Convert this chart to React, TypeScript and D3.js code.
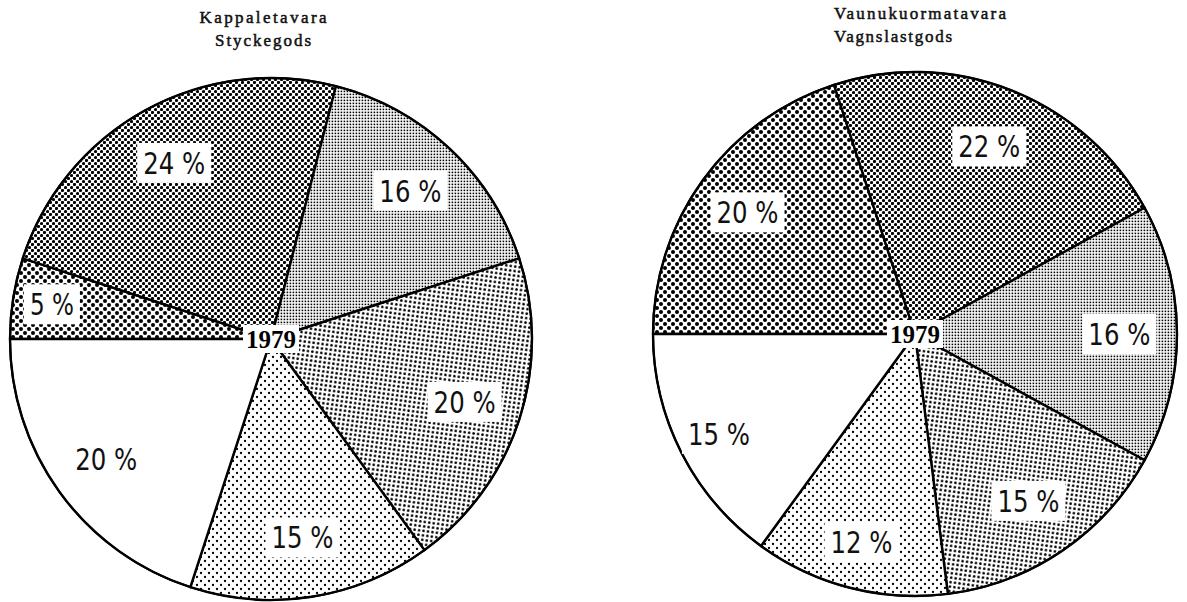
import React from "react";
import * as d3 from "d3";

// ---- data ----
const categories = ["coarse", "dense", "fine", "mesh", "sparse", "none"];
const leftTitle = ["Kappaletavara", "Styckegods"];
const leftValues = [5, 24, 16, 20, 15, 20];
const rightTitle = ["Vaunukuormatavara", "Vagnslastgods"];
const rightValues = [20, 22, 16, 15, 12, 15];
const yearLabel = "1979";

// ---- layout ----
const W = 1187;
const H = 602;
const leftLabelR = [0.85, 0.77, 0.78, 0.78, 0.77, 0.78];
const rightLabelR = [0.79, 0.77, 0.78, 0.77, 0.82, 0.84];

const LABEL_FONT = "'Liberation Sans Narrow', 'DejaVu Sans Condensed', 'Arial Narrow', sans-serif";
const TITLE_FONT = "'Liberation Serif', 'DejaVu Serif', serif";

function Patterns() {
  return (
    <defs>
      <pattern id="p-coarse" width={8} height={8} patternUnits="userSpaceOnUse">
        <rect width={8} height={8} fill="#fff" />
        <circle cx={2} cy={2} r={2.0} fill="#000" />
        <circle cx={6} cy={6} r={2.0} fill="#000" />
      </pattern>
      <pattern id="p-dense" width={6} height={6} patternUnits="userSpaceOnUse">
        <rect width={6} height={6} fill="#fff" />
        <circle cx={1.5} cy={1.5} r={1.6} fill="#000" />
        <circle cx={4.5} cy={4.5} r={1.6} fill="#000" />
      </pattern>
      <pattern id="p-fine" width={3} height={3} patternUnits="userSpaceOnUse">
        <rect width={3} height={3} fill="#fff" />
        <rect x={0.6} y={0.6} width={1.6} height={1.6} fill="#000" />
      </pattern>
      <pattern id="p-mesh" width={4.5} height={4.5} patternUnits="userSpaceOnUse" patternTransform="rotate(8)">
        <rect width={4.5} height={4.5} fill="#fff" />
        <circle cx={2.25} cy={2.25} r={1.35} fill="#000" />
      </pattern>
      <pattern id="p-sparse" width={8} height={8} patternUnits="userSpaceOnUse">
        <rect width={8} height={8} fill="#fff" />
        <circle cx={2} cy={2} r={1.15} fill="#000" />
        <circle cx={6} cy={6} r={1.15} fill="#000" />
      </pattern>
    </defs>
  );
}

type PieProps = {
  cx: number;
  cy: number;
  r: number;
  values: number[];
  labelR: number[];
  title: string[];
  titleX: number;
  titleAnchor: "start" | "middle";
  titleWidths: number[];
  titleY: number[];
};

function Pie({ cx, cy, r, values, labelR, title, titleX, titleAnchor, titleWidths, titleY }: PieProps) {
  const pie = d3
    .pie<number>()
    .sort(null)
    .value((d) => d)
    .startAngle(-Math.PI / 2)
    .endAngle((3 * Math.PI) / 2);
  const arcs = pie(values);
  const arc = d3.arc<d3.PieArcDatum<number>>().innerRadius(0).outerRadius(r);

  return (
    <g>
      {title.map((t, i) => (
        <text
          key={t}
          x={titleX}
          y={titleY[i]}
          textAnchor={titleAnchor}
          fontFamily={TITLE_FONT}
          fontSize={17}
          fontWeight="normal"
          stroke="#111"
          strokeWidth={0.5}
          textLength={titleWidths[i]}
          lengthAdjust="spacing"
          fill="#111"
        >
          {t}
        </text>
      ))}
      <g transform={`translate(${cx},${cy})`}>
        {arcs.map((a, i) => (
          <path
            key={i}
            d={arc(a) || ""}
            fill={categories[i] === "none" ? "#fff" : `url(#p-${categories[i]})`}
            stroke="#000"
            strokeWidth={2.4}
            strokeLinejoin="round"
          />
        ))}
        <circle r={r} fill="none" stroke="#000" strokeWidth={2} />
        {arcs.map((a, i) => {
          const mid = (a.startAngle + a.endAngle) / 2;
          const lr = r * labelR[i];
          const x = Math.sin(mid) * lr;
          const y = -Math.cos(mid) * lr;
          const txt = `${a.data} %`;
          const tl = a.data >= 10 ? 62 : 44;
          const bw = tl + 12;
          const bh = 40;
          return (
            <g key={"l" + i} transform={`translate(${x},${y})`}>
              <rect x={-bw / 2} y={-bh / 2} width={bw} height={bh} fill="#fff" />
              <text
                x={0}
                y={11}
                textAnchor="middle"
                fontFamily={LABEL_FONT}
                fontSize={31}
                textLength={tl}
                lengthAdjust="spacingAndGlyphs"
                fill="#111"
                style={{ whiteSpace: "pre" }}
              >
                {txt}
              </text>
            </g>
          );
        })}
        <rect x={-28} y={-14} width={56} height={28} fill="#fff" />
        <text
          x={0}
          y={9}
          textAnchor="middle"
          fontFamily={TITLE_FONT}
          fontWeight="bold"
          fontSize={25}
          fill="#000"
          textLength={50}
          lengthAdjust="spacingAndGlyphs"
        >
          {yearLabel}
        </text>
      </g>
    </g>
  );
}

export default function App() {
  return (
    <svg
      width={W}
      height={H}
      viewBox={`0 0 ${W} ${H}`}
      style={{ position: "absolute", left: 0, top: 0, background: "#fff" }}
    >
      <Patterns />
      <rect width={W} height={H} fill="#fff" />
      <Pie
        cx={271}
        cy={339}
        r={261}
        values={leftValues}
        labelR={leftLabelR}
        title={leftTitle}
        titleX={263}
        titleAnchor="middle"
        titleWidths={[127, 96]}
        titleY={[23, 46]}
      />
      <Pie
        cx={915}
        cy={334}
        r={262}
        values={rightValues}
        labelR={rightLabelR}
        title={rightTitle}
        titleX={834}
        titleAnchor="start"
        titleWidths={[172, 118]}
        titleY={[19, 42]}
      />
    </svg>
  );
}
